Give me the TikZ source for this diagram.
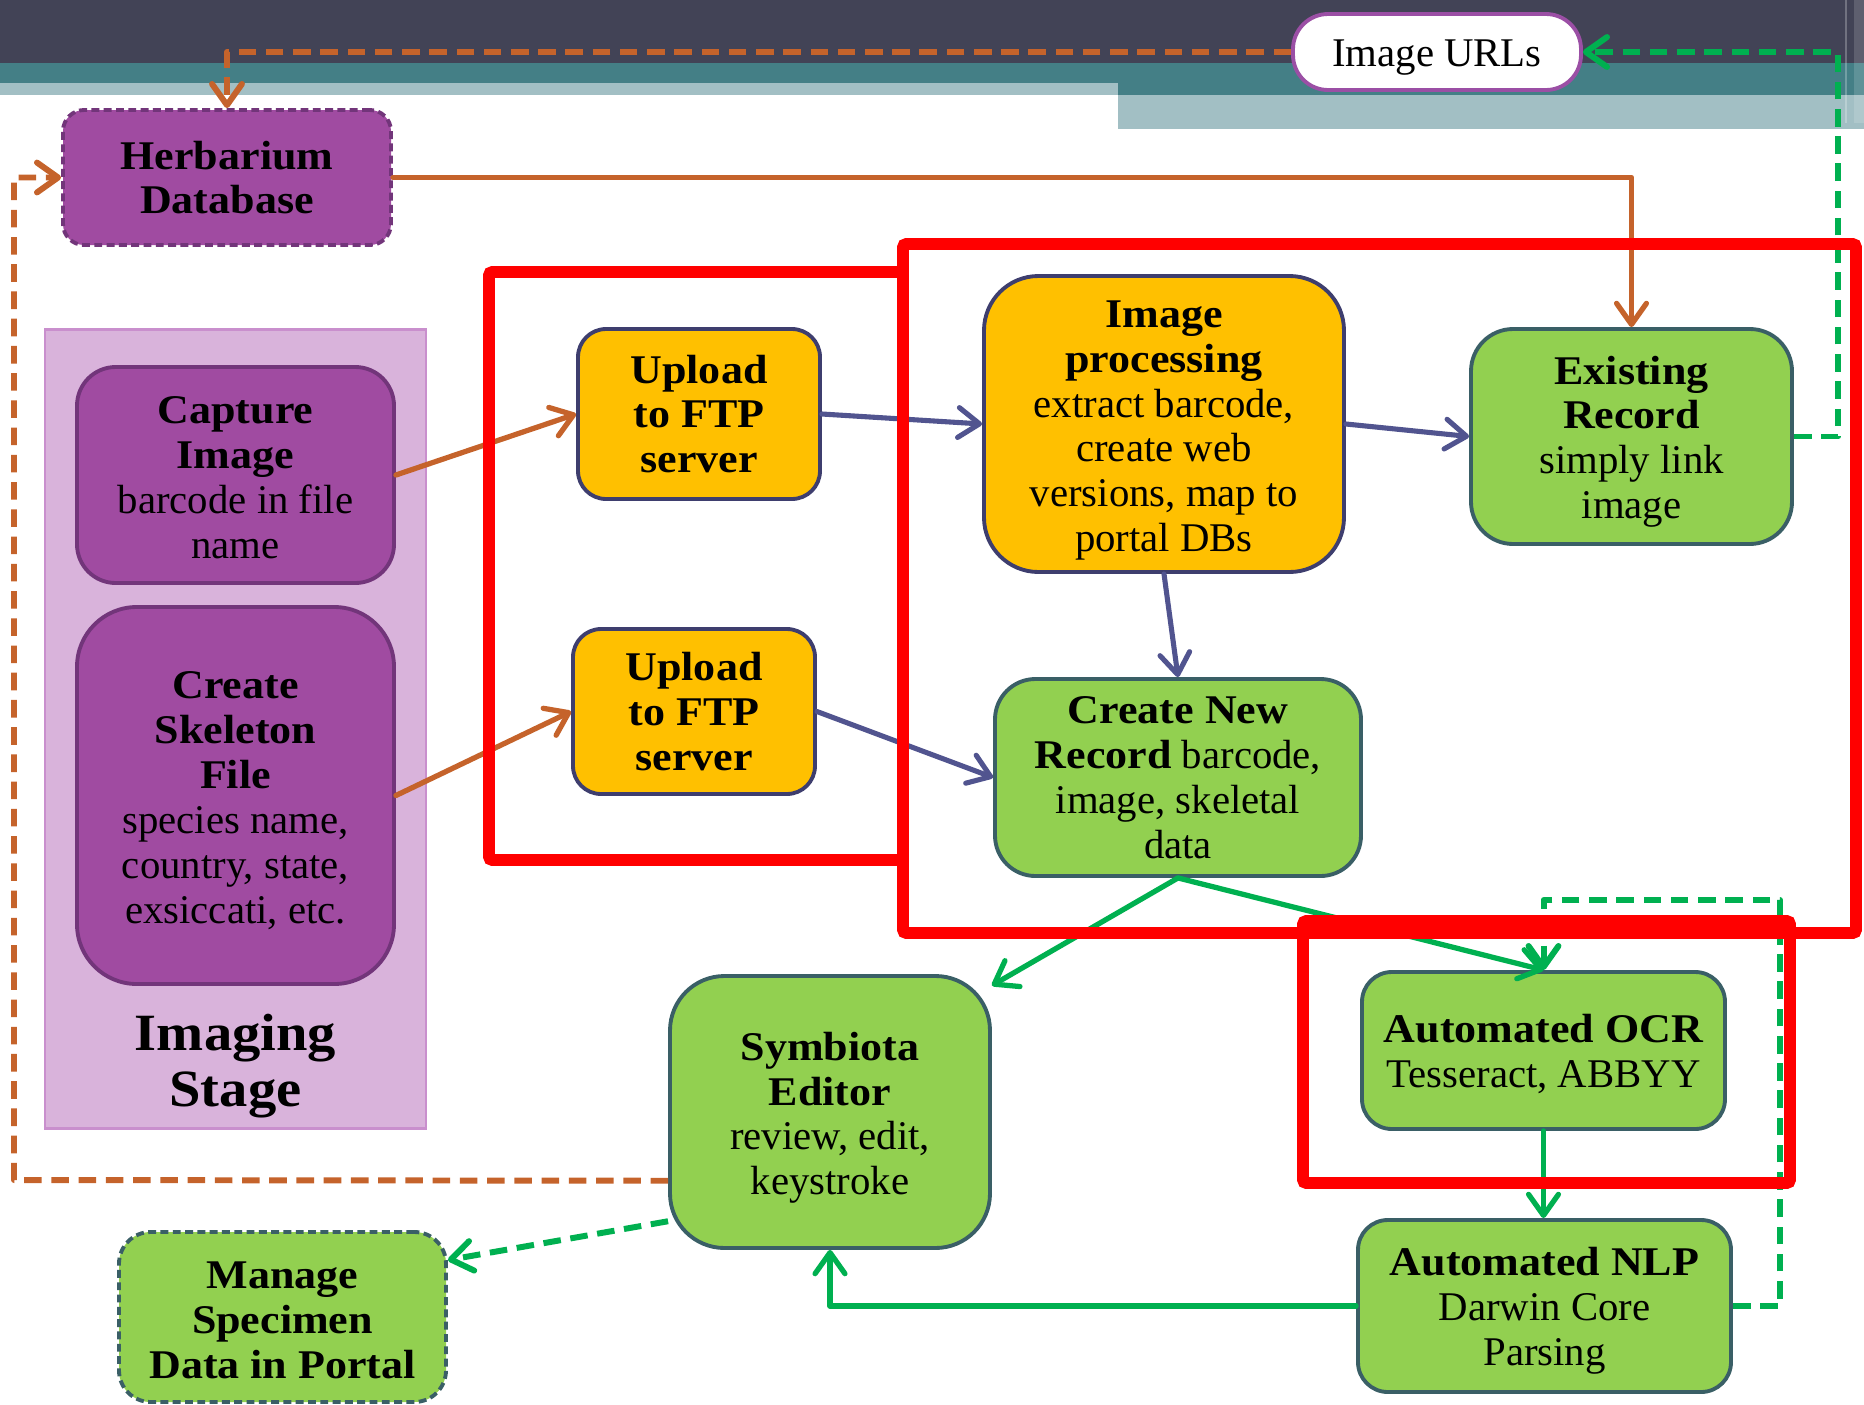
\documentclass[tikz,border=0pt]{standalone}
\usepackage{fontspec}
\setmainfont[BoldFeatures={FakeStretch=1.08}]{Liberation Serif}
\usetikzlibrary{arrows.meta,calc}

\definecolor{hdark}{HTML}{424356}
\definecolor{hteal}{HTML}{447F86}
\definecolor{hlight}{HTML}{A2BFC4}
\definecolor{pfill}{HTML}{A04BA1}
\definecolor{pline}{HTML}{72357A}
\definecolor{sfill}{HTML}{D9B3DB}
\definecolor{sline}{HTML}{C98FCD}
\definecolor{yfill}{HTML}{FFC000}
\definecolor{yline}{HTML}{3E3E6E}
\definecolor{gfill}{HTML}{92D050}
\definecolor{gline}{HTML}{3A5F66}
\definecolor{corange}{HTML}{C5632B}
\definecolor{cnavy}{HTML}{51548F}
\definecolor{cgreen}{HTML}{00B050}
\definecolor{urlline}{HTML}{9B4FA5}

% raises the first text line so the block sits a little lower in its box
\newcommand{\tsp}[1]{\rule{0pt}{#1}}

\tikzset{
  txt/.style={font=\fontsize{23.2}{25.5}\selectfont},
  box/.style={draw, line width=2.2pt, align=center, inner sep=0pt, txt},
  sz/.style 2 args={minimum width=#1*0.02cm, minimum height=#2*0.02cm},
  pbox/.style={box, fill=pfill, draw=pline},
  ybox/.style={box, fill=yfill, draw=yline},
  gbox/.style={box, fill=gfill, draw=gline},
  dashbox/.style={dash pattern=on 4.5pt off 2.5pt},
  arr/.style={-{Straight Barb[length=12pt,width=17pt,line cap=round,line join=round]}},
  conn/.style={line width=3pt, line cap=round, line join=round, arr},
  oc/.style={conn, draw=corange},
  nc/.style={conn, draw=cnavy, line width=2.9pt},
  gc/.style={conn, draw=cgreen},
  dashconn/.style={line cap=butt, line width=3.4pt, dash pattern=on 10pt off 5.5pt},
  redbox/.style={draw=red, line width=6.8pt, rounded corners=2pt}
}

\begin{document}
\begin{tikzpicture}[x=0.02cm,y=-0.02cm]
\useasboundingbox (0,0) rectangle (1864,1404);

% title bar bands
\fill[hdark] (0,0) rectangle (1864,63);
\fill[hteal] (0,63) rectangle (1864,83);
\fill[hteal] (1118,83) rectangle (1864,95);
\fill[hlight] (0,83) rectangle (1118,95);
\fill[hlight] (1118,95) rectangle (1864,129);
\fill[white, opacity=0.15] (1854,0) rectangle (1864,123);
\fill[white, opacity=0.25] (1845,0) rectangle (1847,123);

% imaging stage panel
\node[draw=sline, fill=sfill, line width=1.7pt, inner sep=0pt, sz={381}{799}] (stage) at (235.5,728.5) {};
\node[font=\fontsize{29.8}{31.8}\selectfont\bfseries, align=center] (stagelbl) at (235.5,1062) {\tsp{25pt}Imaging\\Stage};

% process boxes
\node[pbox, dashbox, sz={328}{135}, rounded corners=12pt] (herb) at (227,177.5) {\textbf{Herbarium}\\\textbf{Database}};
\node[pbox, sz={317}{216}, rounded corners=22pt] (capture) at (235.5,475) {\tsp{18.6pt}\textbf{Capture}\\\textbf{Image}\\barcode in file\\name};
\node[pbox, sz={317}{377}, rounded corners=34pt] (skel) at (235.5,795.5) {\tsp{21.2pt}\textbf{Create}\\\textbf{Skeleton}\\\textbf{File}\\species name,\\country, state,\\exsiccati, etc.};

\node[ybox, sz={242}{170}, rounded corners=16pt] (up1) at (699,414) {\textbf{Upload}\\\textbf{to FTP}\\\textbf{server}};
\node[ybox, sz={242}{165}, rounded corners=16pt] (up2) at (694,711.5) {\textbf{Upload}\\\textbf{to FTP}\\\textbf{server}};
\node[ybox, sz={360}{296}, rounded corners=31pt] (proc) at (1164,424) {\tsp{22.6pt}\textbf{Image}\\\textbf{processing}\\extract barcode,\\create web\\versions, map to\\portal DBs};

\node[gbox, sz={321}{215}, rounded corners=24pt] (exist) at (1631.5,436.5) {\tsp{21.8pt}\textbf{Existing}\\\textbf{Record}\\simply link\\image};
\node[gbox, sz={366}{197}, rounded corners=23pt] (newrec) at (1178,777.5) {\textbf{Create New}\\\textbf{Record} barcode,\\image, skeletal\\data};
\node[gbox, sz={363}{157}, rounded corners=17pt] (ocr) at (1543.5,1050.5) {\tsp{19.8pt}\textbf{Automated OCR}\\Tesseract, ABBYY};
\node[gbox, sz={373}{172}, rounded corners=17pt] (nlp) at (1544.5,1306) {\tsp{21.8pt}\textbf{Automated NLP}\\Darwin Core\\Parsing};
\node[gbox, sz={320}{272}, rounded corners=31pt] (symb) at (830,1112) {\tsp{22.6pt}\textbf{Symbiota}\\\textbf{Editor}\\review, edit,\\keystroke};
\node[gbox, dashbox, sz={327}{170}, rounded corners=18pt] (manage) at (282.5,1317) {\tsp{19.2pt}\textbf{Manage}\\\textbf{Specimen}\\\textbf{Data in Portal}};

\node[box, fill=white, draw=urlline, sz={288}{76}, rounded corners=20pt] (urls) at (1437,52) {\tsp{22pt}Image URLs};

% loop corners
\coordinate (loopL) at (14,1180);
\coordinate (loopR) at (1838,436.5);
\coordinate (nlpR) at (1780,1306);
\coordinate (ocrT) at (1780,900);

% connectors
\draw[oc] (capture.east) -- (up1.west);
\draw[oc] (skel.east) -- (up2.west);
\draw[nc] (up1.east) -- (proc.west);
\draw[nc] (up2.east) -- (newrec.west);
\draw[nc] (proc.east) -- (exist.west);
\draw[nc] (proc.south) -- (newrec.north);
\draw[oc] (herb.east) -| (exist.north);
\draw[gc] (newrec.south) -- (symb.38);
\draw[gc] (newrec.south) -- (ocr.north);
\draw[gc] (ocr.south) -- (ocr.south |- nlp.north);
\draw[gc] (nlp.west) -| (symb.south);
\draw[gc, dashconn] (nlp.east) -- (nlpR) -- (ocrT) -| (ocr.north);
\draw[gc, dashconn] (symb.214) -- (manage.19);
\draw[oc, dashconn] (symb.203) -- (loopL) |- (herb.west);
\draw[oc, dashconn] (urls.west) -| (herb.north);
\draw[gc, dashconn] (exist.east) -- (loopR) |- (urls.east);

% highlight frames
\draw[redbox] (489,272) rectangle (903,860);
\draw[redbox] (903,244) rectangle (1856,933);
\draw[redbox] (1303,921) rectangle (1790,1183);
\end{tikzpicture}
\end{document}
